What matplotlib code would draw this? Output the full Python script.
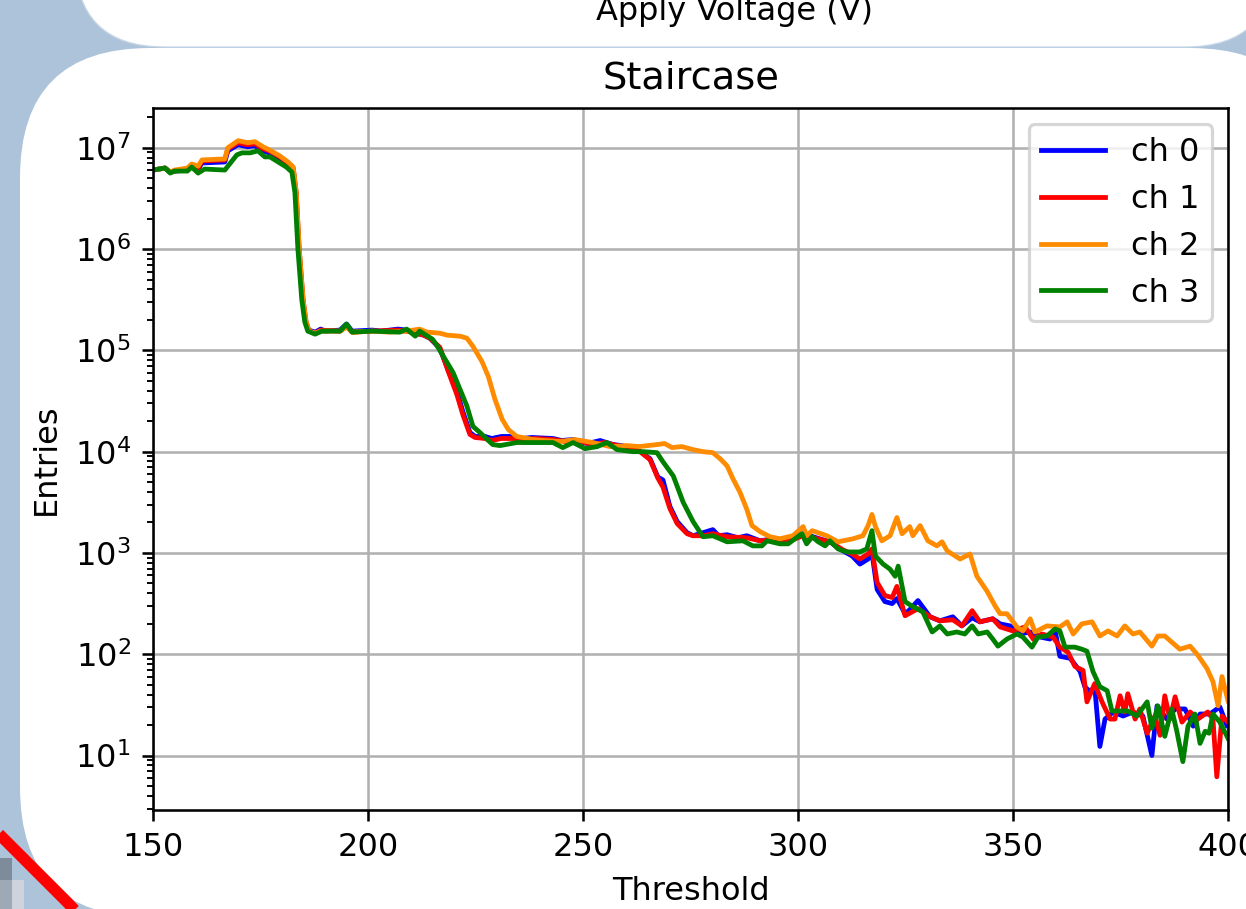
import matplotlib
matplotlib.use('Agg')
import matplotlib.pyplot as plt
from matplotlib.patches import FancyBboxPatch, Rectangle
import numpy as np

# ----------------- Data (threshold vs log10(entries)) -----------------

thr_ch0 = [150, 152.8, 154, 155, 158, 159, 160.5, 161.4, 166.7, 167.4,
           169.8, 172, 173.7, 175.6, 177, 179.5, 181.4, 182.6, 183.2, 183.9,
           184.8, 185.5, 186.2, 187.7, 189, 190, 193.5, 195, 196.3, 201,
           203, 207, 209, 211, 213, 214.4, 216.7, 218.6, 220.7, 222.1,
           223.7, 224.9, 227.2, 228.8, 231, 233.7, 236, 238, 243, 245,
           247.7, 251, 254, 257, 259, 261.6, 263.3, 265.6, 267.4, 268.6,
           270.2, 271.9, 274.2, 275.6, 277.9, 280.2, 281.5, 283.5, 286, 288.1,
           291.2, 294.2, 295.8, 298, 301.2, 303.5, 305, 307.4, 310.5, 312.6,
           314.4, 316.3, 317.2, 318.4, 320.2, 321.9, 323, 324.9, 326, 327.9,
           330.7, 333, 336, 338.1, 340.5, 342.3, 345.3, 347, 349.3, 351.6,
           354, 356.3, 358.6, 359.8, 360.9, 363.3, 365.6, 366.7, 367.9, 369,
           370.2, 371.4, 373.3, 375.6, 377.9, 380.2, 382.3, 383.5, 385.8, 387.7,
           390, 391.9, 393.5, 395.8, 398.1, 399.8, 400]
log_ch0 = [6.78, 6.80, 6.76, 6.77, 6.78, 6.82, 6.79, 6.85, 6.86, 6.97,
           7.03, 7.01, 7.02, 6.97, 6.95, 6.89, 6.84, 6.79, 6.56, 6.00,
           5.50, 5.28, 5.20, 5.18, 5.21, 5.19, 5.20, 5.26, 5.19, 5.20,
           5.19, 5.21, 5.20, 5.17, 5.15, 5.12, 5.02, 4.81, 4.59, 4.39,
           4.19, 4.15, 4.15, 4.13, 4.15, 4.15, 4.13, 4.14, 4.13, 4.11,
           4.12, 4.08, 4.11, 4.07, 4.06, 4.03, 4.00, 3.93, 3.75, 3.72,
           3.46, 3.31, 3.20, 3.17, 3.20, 3.23, 3.17, 3.18, 3.15, 3.17,
           3.12, 3.14, 3.12, 3.13, 3.19, 3.16, 3.14, 3.11, 3.02, 2.97,
           2.89, 2.94, 3.00, 2.64, 2.52, 2.50, 2.55, 2.40, 2.44, 2.53,
           2.37, 2.33, 2.37, 2.28, 2.36, 2.32, 2.35, 2.30, 2.28, 2.20,
           2.22, 2.17, 2.15, 2.23, 1.98, 1.96, 1.83, 1.68, 1.63, 1.68,
           1.09, 1.36, 1.43, 1.39, 1.43, 1.39, 1.00, 1.49, 1.36, 1.46,
           1.46, 1.29, 1.41, 1.41, 1.48, 1.29, 1.30]

thr_ch1 = [150, 152.8, 154, 155, 158, 159, 160.5, 161.4, 166.7, 167.4,
           169.8, 172, 173.7, 175.6, 177, 179.5, 181.4, 182.6, 183.3, 184,
           184.9, 185.6, 186.3, 187.7, 189, 193.5, 195, 196.3, 201, 207,
           209, 211, 213, 214.4, 216.7, 218.6, 220.7, 222.1, 223.7, 224.9,
           227.2, 228.8, 231, 233.7, 236, 239, 243, 246, 249, 252,
           255, 258, 261.6, 263.3, 265.6, 267.4, 268.6, 270.2, 271.9, 274.2,
           275.6, 277.9, 280.2, 283.5, 288.1, 291.2, 294.2, 298, 301.2, 303.5,
           307.4, 310.5, 312.6, 314.4, 316.3, 317.2, 318.4, 320.2, 321.9, 323,
           324.9, 327.9, 330.7, 333, 336, 338.1, 340.5, 342.3, 345.3, 347,
           350, 352.8, 354.7, 356.7, 359.3, 360.9, 362.8, 364.4, 366.3, 367.2,
           369, 370.7, 372.6, 373.7, 374.9, 376, 376.7, 378.4, 379.5, 381.2,
           383, 384.2, 385.3, 386.5, 387.7, 389.3, 391.2, 393, 395.3, 396.5,
           397.4, 398.6, 400]
log_ch1 = [6.78, 6.80, 6.76, 6.77, 6.79, 6.83, 6.80, 6.87, 6.88, 6.99,
           7.05, 7.03, 7.04, 6.99, 6.97, 6.91, 6.85, 6.80, 6.56, 6.00,
           5.50, 5.28, 5.19, 5.17, 5.20, 5.19, 5.24, 5.18, 5.19, 5.20,
           5.19, 5.17, 5.15, 5.12, 5.03, 4.80, 4.56, 4.36, 4.17, 4.14,
           4.13, 4.11, 4.13, 4.13, 4.12, 4.13, 4.12, 4.10, 4.11, 4.07,
           4.09, 4.06, 4.02, 4.00, 3.92, 3.74, 3.65, 3.44, 3.29, 3.19,
           3.17, 3.17, 3.19, 3.16, 3.15, 3.12, 3.13, 3.12, 3.17, 3.15,
           3.11, 3.03, 2.99, 2.94, 2.99, 3.04, 2.71, 2.58, 2.56, 2.67,
           2.38, 2.45, 2.37, 2.33, 2.34, 2.28, 2.43, 2.32, 2.35, 2.27,
           2.23, 2.27, 2.15, 2.20, 2.17, 2.07, 2.02, 1.88, 1.84, 1.53,
           1.71, 1.53, 1.36, 1.36, 1.59, 1.43, 1.61, 1.36, 1.46, 1.22,
           1.39, 1.20, 1.59, 1.36, 1.58, 1.33, 1.43, 1.36, 1.43, 1.36,
           0.79, 1.39, 1.33]

thr_ch2 = [150, 152.8, 154, 155, 158, 159, 160.5, 161.4, 166.7, 167.4,
           169.8, 172, 173.7, 175.6, 177, 179.5, 181.4, 182.6, 183.3, 184,
           184.9, 185.6, 186.3, 187.7, 189, 193.5, 195, 196.3, 201, 205,
           209, 212, 213.7, 216.7, 218.4, 221.4, 223, 224.4, 226.5, 228,
           229.5, 231.2, 232.6, 234.6, 238.4, 241, 244.7, 248, 252.3, 256.3,
           260.2, 263, 267.2, 269, 270.7, 273, 275.6, 277.9, 280.2, 281.9,
           283.5, 284.9, 286.5, 288.1, 289.3, 291.2, 293.5, 295.8, 298.8, 301.2,
           302, 303.3, 306.7, 309.3, 312.8, 315.1, 316.3, 317.2, 318, 319.5,
           321.4, 323, 324.2, 326, 326.7, 328.4, 330.2, 332.3, 333.5, 334.7,
           337.7, 340, 341.6, 344, 345.8, 347, 348.6, 350.9, 352.3, 354,
           355.1, 357.9, 360.9, 362.6, 364, 366, 368.4, 370.2, 372.1, 374.2,
           376, 377.9, 379.5, 382.3, 383.7, 385.3, 388.8, 391.2, 393, 395.1,
           396.5, 397.7, 398.6, 400]
log_ch2 = [6.78, 6.80, 6.76, 6.78, 6.80, 6.84, 6.82, 6.88, 6.89, 7.00,
           7.07, 7.05, 7.06, 7.01, 6.98, 6.92, 6.86, 6.81, 6.56, 6.00,
           5.50, 5.28, 5.19, 5.17, 5.19, 5.19, 5.23, 5.18, 5.19, 5.18,
           5.19, 5.21, 5.18, 5.17, 5.15, 5.14, 5.12, 5.04, 4.89, 4.74,
           4.52, 4.32, 4.22, 4.15, 4.12, 4.11, 4.10, 4.12, 4.09, 4.05,
           4.06, 4.05, 4.07, 4.08, 4.04, 4.05, 4.02, 4.00, 3.99, 3.93,
           3.86, 3.73, 3.60, 3.43, 3.27, 3.21, 3.16, 3.14, 3.17, 3.26,
           3.17, 3.22, 3.17, 3.11, 3.14, 3.17, 3.27, 3.38, 3.26, 3.12,
           3.17, 3.35, 3.19, 3.26, 3.17, 3.27, 3.12, 3.07, 3.11, 3.02,
           2.94, 2.99, 2.77, 2.62, 2.48, 2.40, 2.40, 2.27, 2.23, 2.35,
           2.22, 2.28, 2.27, 2.32, 2.20, 2.30, 2.32, 2.18, 2.23, 2.18,
           2.28, 2.20, 2.22, 2.08, 2.18, 2.18, 2.05, 2.08, 1.99, 1.86,
           1.73, 1.49, 1.78, 1.54]

thr_ch3 = [150, 152.8, 154, 155, 158, 159, 160.5, 162, 166.7, 169.5,
           170.7, 172.6, 174.4, 176, 177.2, 181, 182.3, 183, 183.7, 184.6,
           185.3, 186, 187.7, 189.3, 193.5, 195, 196.3, 201, 207.4, 209,
           211, 212, 215, 216, 219.8, 223, 224.4, 226, 229, 230.7,
           234.6, 239.3, 243, 245.3, 247.7, 250.5, 253.3, 255.6, 257.9, 261.6,
           264, 267.2, 268.6, 271, 273.3, 275.6, 277.9, 280.2, 283.5, 287.2,
           289.5, 291.6, 292.8, 295.8, 297.7, 300.9, 302, 303.3, 304.7, 306.3,
           307.4, 309.3, 311.4, 314.4, 316, 317.2, 318, 319.8, 321.4, 322.6,
           323.3, 324.9, 326.7, 329, 331.2, 333, 334.7, 336.9, 338.8, 340.5,
           341.9, 344, 345.3, 346.5, 348.6, 350.9, 352.3, 354.4, 355.8, 357.9,
           359.8, 360.9, 362.1, 364.4, 366, 367.2, 368.6, 370.2, 371.9, 373,
           374.9, 376.7, 378.8, 381.2, 382.3, 383.7, 385.3, 386.9, 388.1, 389.5,
           390.7, 392.3, 393.5, 394.7, 395.6, 396.5, 398.1, 400]
log_ch3 = [6.78, 6.80, 6.75, 6.77, 6.77, 6.81, 6.75, 6.79, 6.78, 6.93,
           6.95, 6.95, 6.97, 6.91, 6.91, 6.81, 6.76, 6.56, 6.00, 5.50,
           5.28, 5.19, 5.16, 5.19, 5.19, 5.26, 5.18, 5.19, 5.18, 5.21,
           5.14, 5.19, 5.11, 5.05, 4.78, 4.45, 4.25, 4.19, 4.07, 4.06,
           4.09, 4.09, 4.09, 4.04, 4.09, 4.03, 4.05, 4.09, 4.02, 4.00,
           4.00, 3.99, 3.90, 3.76, 3.50, 3.31, 3.16, 3.17, 3.11, 3.12,
           3.07, 3.07, 3.12, 3.09, 3.09, 3.19, 3.09, 3.16, 3.11, 3.07,
           3.12, 3.04, 3.01, 3.01, 3.04, 3.22, 2.97, 2.89, 2.84, 2.77,
           2.87, 2.52, 2.47, 2.42, 2.22, 2.28, 2.20, 2.22, 2.20, 2.28,
           2.20, 2.22, 2.15, 2.08, 2.15, 2.20, 2.17, 2.07, 2.17, 2.18,
           2.25, 2.23, 2.07, 2.07, 2.05, 2.03, 1.83, 1.68, 1.64, 1.44,
           1.44, 1.44, 1.39, 1.53, 1.27, 1.49, 1.19, 1.46, 1.24, 0.94,
           1.29, 1.41, 1.12, 1.24, 1.22, 1.41, 1.33, 1.17]

labels = ["ch 0", "ch 1", "ch 2", "ch 3"]
colors = ["blue", "red", "darkorange", "green"]
series = [(thr_ch0, log_ch0), (thr_ch1, log_ch1), (thr_ch2, log_ch2), (thr_ch3, log_ch3)]

# ----------------- Figure -----------------

W, H, DPI = 1246, 909, 230
fig = plt.figure(figsize=(W / DPI, H / DPI), dpi=DPI)
fig.patch.set_facecolor('#adc3da')

# Slide decoration drawn in pixel coordinates
bg = fig.add_axes([0, 0, 1, 1], zorder=0)
bg.set_xlim(0, W)
bg.set_ylim(H, 0)
bg.axis('off')

bg.add_patch(FancyBboxPatch((75, -200), 1200, 247, boxstyle="round,pad=0,rounding_size=90",
                            facecolor='white', edgecolor='#c9d8e8', lw=0.4))
bg.add_patch(FancyBboxPatch((20, 48), 1300, 869, boxstyle="round,pad=0,rounding_size=130",
                            facecolor='white', edgecolor='none'))
bg.add_patch(Rectangle((0, 858), 12, 22, facecolor='#7d8b9b', edgecolor='none'))
bg.add_patch(Rectangle((0, 880), 12, 29, facecolor='#9ea9b8', edgecolor='none'))
bg.add_patch(Rectangle((12, 880), 12, 29, facecolor='#cfd3dd', edgecolor='none'))
bg.plot([-6, 33, 67, 84], [829, 868, 902, 920], color='red', lw=3.6, solid_capstyle='butt')
bg.text(735, 20, "Apply Voltage (V)", ha='center', va='baseline', fontsize=10)

ax = fig.add_axes([153 / W, 1 - 810 / H, (1228 - 153) / W, (810 - 108) / H], zorder=1)

for (thr, lg), lab, col in zip(series, labels, colors):
    ax.plot(thr, 10 ** np.array(lg), color=col, label=lab)

ax.set_yscale('log')
ax.set_xlim(150, 400)
ax.set_ylim(2.9, 2.47e7)
ax.grid(True)
ax.set_title("Staircase")
ax.set_xlabel("Threshold")
ax.set_ylabel("Entries")
ax.legend(loc='upper right')

fig.savefig("out.png", dpi=DPI)
